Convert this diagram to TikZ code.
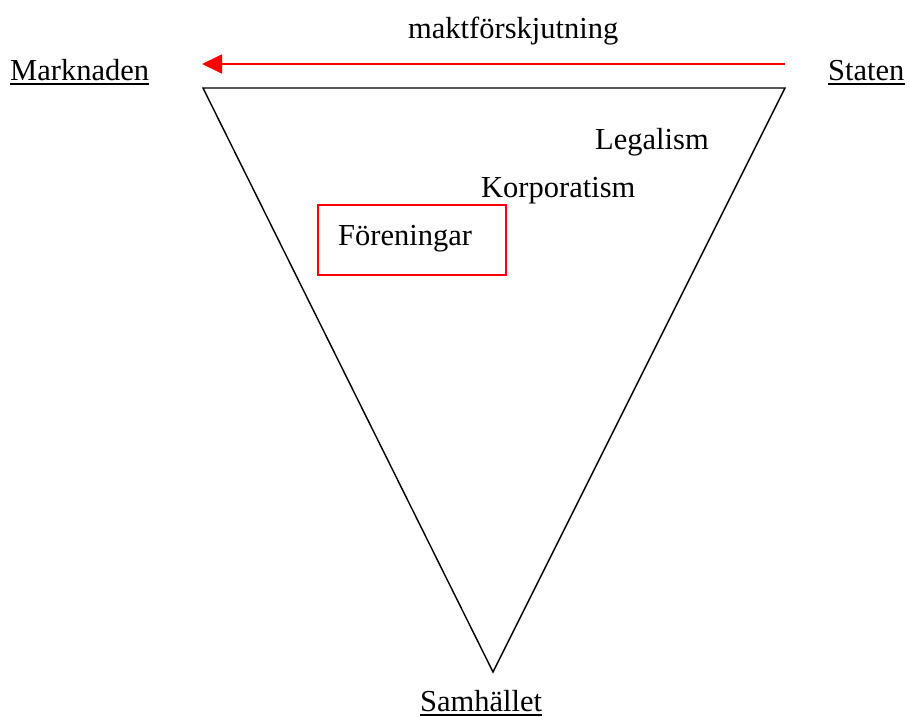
\documentclass[tikz,border=0pt]{standalone}
\usepackage{fontspec}
\setmainfont{Liberation Serif}
\usetikzlibrary{arrows.meta}
\tikzset{
  lbl/.style={inner sep=0pt, anchor=base west, font=\fontsize{30.5}{36}\selectfont},
  ul/.style={line width=2pt, black},
  edge/.style={line width=1.4pt, black, line join=miter},
  powerarrow/.style={line width=1.8pt, red, -{Triangle[length=20pt,width=19pt]}},
  redbox/.style={draw=red, line width=1.8pt, inner sep=0pt}
}
\begin{document}
\begin{tikzpicture}[x=1pt,y=-1pt]
\useasboundingbox (0,0) rectangle (909,716);
% corners of the triangle
\coordinate (tl) at (203,88);
\coordinate (tr) at (785,88);
\coordinate (bt) at (493,672);
\draw[edge] (tl) -- (tr) -- (bt) -- cycle;
% shift of power arrow
\coordinate (as) at (785,64);
\coordinate (ae) at (202,64);
\draw[powerarrow] (as) -- (ae);
% labels
\node[lbl] (mark) at (10,80) {Marknaden};
\node[lbl] (stat) at (828,80) {Staten};
\node[lbl] (samh) at (420,711) {Samhället};
\node[lbl] (makt) at (408,38) {maktförskjutning};
\node[lbl] (leg) at (595,149) {Legalism};
\node[lbl] (korp) at (481,197) {Korporatism};
\node[redbox, minimum width=188pt, minimum height=70pt, anchor=north west] (box) at (317,204) {};
\node[lbl] (for) at (338,245) {Föreningar};
% underlines
\foreach \n in {mark,stat,samh}
  \draw[ul] ([yshift=-3.5pt]\n.base west) -- ([yshift=-3.5pt]\n.base east);
\end{tikzpicture}
\end{document}
